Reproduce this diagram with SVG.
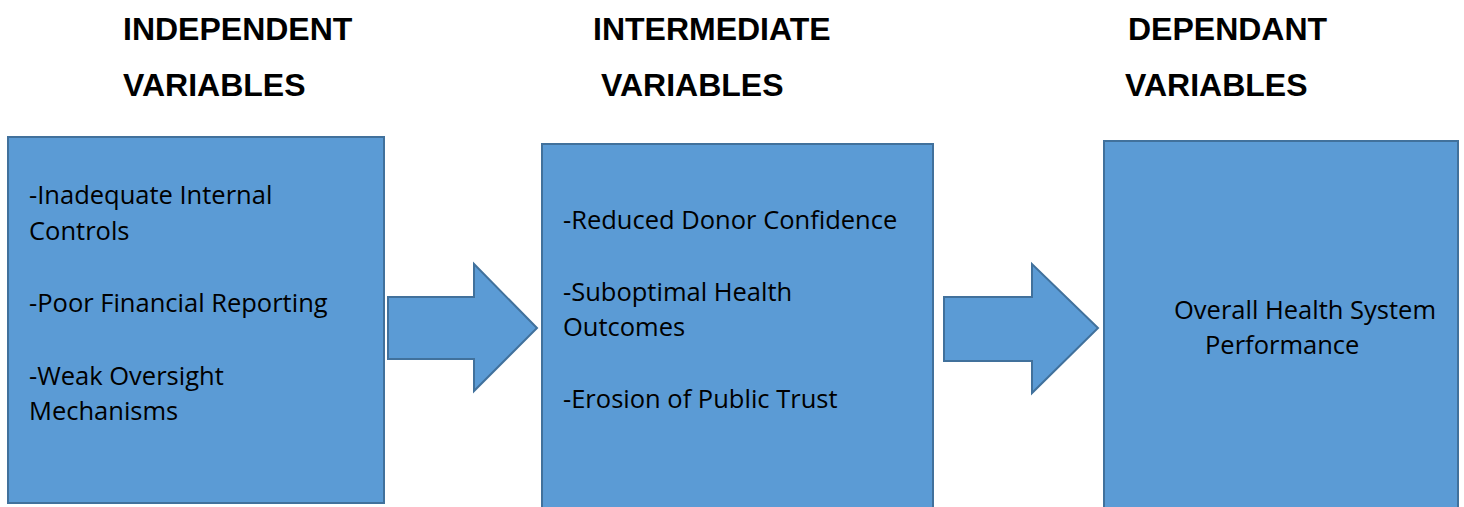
<svg xmlns="http://www.w3.org/2000/svg" width="1464" height="507" viewBox="0 0 1464 507">
  <style>
    .hdr { font-family: "Liberation Sans", Arial, sans-serif; font-weight: bold; font-size: 32px; fill: #000; }
    .box { fill: #5B9BD5; stroke: #41719C; stroke-width: 2; }
    .arrow { fill: #5B9BD5; stroke: #41719C; stroke-width: 2; stroke-linejoin: miter; }
    .txt { font-family: "Open Sans", "Noto Sans", sans-serif; font-size: 25.5px; fill: #000; }
  </style>
  <rect width="1464" height="507" fill="#fff"/>

  <!-- column headings -->
  <g id="headings">
    <text class="hdr" x="123" y="40">INDEPENDENT</text>
    <text class="hdr" x="123" y="96">VARIABLES</text>
    <text class="hdr" x="593" y="40">INTERMEDIATE</text>
    <text class="hdr" x="601" y="96">VARIABLES</text>
    <text class="hdr" x="1128" y="40">DEPENDANT</text>
    <text class="hdr" x="1125" y="96">VARIABLES</text>
  </g>

  <!-- independent variables -->
  <g id="independent">
    <rect class="box" x="8" y="137" width="376" height="366"/>
    <text class="txt" x="29" y="204">-Inadequate Internal</text>
    <text class="txt" x="29" y="240">Controls</text>
    <text class="txt" x="29" y="312">-Poor Financial Reporting</text>
    <text class="txt" x="29" y="385">-Weak Oversight</text>
    <text class="txt" x="29" y="420">Mechanisms</text>
  </g>

  <!-- intermediate variables -->
  <g id="intermediate">
    <rect class="box" x="542" y="144" width="391" height="370"/>
    <text class="txt" x="563" y="229">-Reduced Donor Confidence</text>
    <text class="txt" x="563" y="301">-Suboptimal Health</text>
    <text class="txt" x="563" y="336">Outcomes</text>
    <text class="txt" x="563" y="408">-Erosion of Public Trust</text>
  </g>

  <!-- dependant variables -->
  <g id="dependant">
    <rect class="box" x="1104" y="141" width="354" height="373"/>
    <text class="txt" x="1174" y="319">Overall Health System</text>
    <text class="txt" x="1205" y="354">Performance</text>
  </g>

  <!-- block arrows between columns -->
  <g id="connectors">
    <polygon class="arrow" points="388,297 474,297 474,264 537,328 474,391 474,359 388,359"/>
    <polygon class="arrow" points="944,297 1032,297 1032,264 1098,328 1032,393 1032,361 944,361"/>
  </g>
</svg>
